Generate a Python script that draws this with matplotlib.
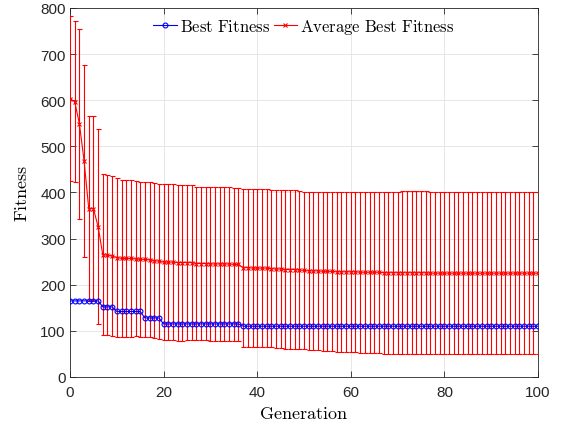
import matplotlib

matplotlib.use("Agg")
import matplotlib.pyplot as plt
import numpy as np

# Generations 0..100
generation = list(range(101))

best_fitness = [
    165, 165, 165, 165, 165, 165, 165, 152, 152, 152,
    142, 142, 142, 142, 142, 142, 128, 128, 128, 128,
    115, 115, 115, 115, 115, 115, 115, 115, 115, 115,
    115, 115, 115, 115, 115, 115, 115, 110, 110, 110,
    110, 110, 110, 110, 110, 110, 110, 110, 110, 110,
    110, 110, 110, 110, 110, 110, 110, 110, 110, 110,
    110, 110, 110, 110, 110, 110, 110, 110, 110, 110,
    110, 110, 110, 110, 110, 110, 110, 110, 110, 110,
    110, 110, 110, 110, 110, 110, 110, 110, 110, 110,
    110, 110, 110, 110, 110, 110, 110, 110, 110, 110,
    110,
]

avg_fitness = [
    603, 597, 549, 469, 365, 365, 326, 265, 264, 262,
    259, 257, 257, 257, 256, 255, 255, 254, 252, 251,
    249, 249, 249, 248, 248, 248, 248, 246, 246, 246,
    245, 245, 245, 245, 245, 244, 244, 237, 237, 236,
    236, 236, 236, 235, 234, 234, 233, 233, 233, 232,
    231, 230, 230, 230, 229, 229, 229, 228, 228, 228,
    228, 228, 227, 227, 227, 227, 227, 226, 226, 226,
    226, 226, 226, 226, 226, 226, 226, 225, 225, 225,
    225, 225, 225, 225, 225, 225, 225, 225, 225, 225,
    225, 225, 225, 225, 225, 225, 225, 225, 225, 225,
    225,
]

std_fitness = [
    179, 174, 206, 208, 201, 201, 211, 174, 173, 173,
    172, 170, 170, 170, 168, 168, 168, 168, 168, 168,
    169, 169, 169, 169, 169, 168, 168, 166, 166, 166,
    166, 166, 166, 166, 166, 166, 166, 171, 171, 171,
    171, 171, 171, 171, 172, 172, 172, 172, 172, 172,
    171, 172, 172, 172, 172, 172, 172, 173, 173, 173,
    173, 173, 174, 174, 175, 175, 175, 176, 176, 176,
    176, 177, 177, 177, 177, 177, 177, 176, 176, 176,
    176, 176, 176, 176, 176, 176, 176, 176, 176, 176,
    176, 176, 176, 176, 176, 176, 176, 176, 176, 176,
    176,
]

plt.rcParams["mathtext.fontset"] = "cm"
plt.rcParams["font.family"] = ["Liberation Sans", "DejaVu Sans"]

fig = plt.figure(figsize=(5.62, 4.27), dpi=100)
ax = fig.add_axes([0.1246, 0.1148, 0.8327, 0.8642])

avg = ax.errorbar(
    generation,
    avg_fitness,
    yerr=std_fitness,
    color="red",
    lw=0.8,
    elinewidth=0.8,
    capsize=1.8,
    capthick=0.8,
    marker="x",
    ms=3,
    mew=0.8,
    zorder=3,
)
(best,) = ax.plot(
    generation,
    best_fitness,
    color="blue",
    lw=0.8,
    marker="o",
    ms=3.5,
    mfc="none",
    mew=0.8,
    zorder=4,
)

ax.set_xlim(0, 100)
ax.set_ylim(0, 800)
ax.set_xticks([0, 20, 40, 60, 80, 100])
ax.set_yticks(np.arange(0, 801, 100))
ax.grid(True, color="#e3e3e3", lw=0.6)
ax.set_axisbelow(True)
ax.tick_params(direction="in", top=True, right=True, length=4, width=0.6,
               labelsize=11, colors="#262626", pad=3)
ax.tick_params(axis="x", pad=6)
for s in ax.spines.values():
    s.set_color("#262626")
    s.set_linewidth(0.6)

ax.set_xlabel(r"$\mathrm{Generation}$", fontsize=13, labelpad=4)
ax.set_ylabel(r"$\mathrm{Fitness}$", fontsize=13, labelpad=7)

ax.legend(
    [best, avg[0]],
    [r"$\mathrm{Best\ Fitness}$", r"$\mathrm{Average\ Best\ Fitness}$"],
    loc="upper center",
    bbox_to_anchor=(0.5, 1.0),
    ncol=2,
    frameon=False,
    fontsize=12,
    handlelength=1.4,
    handletextpad=0.2,
    columnspacing=0.2,
    borderaxespad=0.15,
)

fig.savefig("out.png", dpi=100)
